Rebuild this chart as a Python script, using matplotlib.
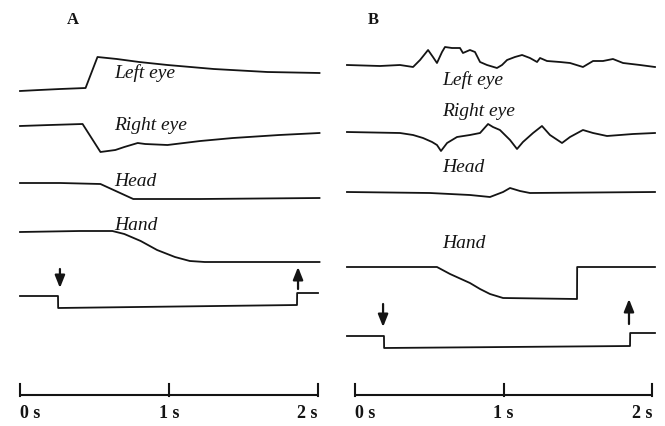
import matplotlib
matplotlib.use("Agg")
import matplotlib.pyplot as plt

# traces: time (s) and vertical level (px from top)
# panel A
a_left_t = [0, 0.13, 0.27, 0.44, 0.52, 0.65, 0.80, 0.99, 1.30, 1.66, 2.01]
a_left_y = [91, 90, 89, 88, 57, 59, 62, 65, 69, 72, 73]
a_right_t = [0, 0.20, 0.42, 0.54, 0.64, 0.70, 0.79, 0.84, 0.99, 1.21, 1.43, 1.74, 2.01]
a_right_y = [126, 125, 124, 152, 150, 147, 143, 144, 145, 141, 138, 135, 133]
a_head_t = [0, 0.27, 0.54, 0.76, 1.21, 2.01]
a_head_y = [183, 183, 184, 199, 199, 198]
a_hand_t = [0, 0.40, 0.62, 0.70, 0.81, 0.92, 1.04, 1.14, 1.24, 2.01]
a_hand_y = [232, 231, 231, 234, 241, 250, 257, 261, 262, 262]
a_stim_t = [0, 0.255, 0.256, 1.859, 1.860, 2.0]
a_stim_y = [296, 296, 308, 305, 293, 293]
a_arrows = [(0.268, 269, 288), (1.866, 289, 267)]

# panel B
b_left_t = [-0.054, 0.168, 0.303, 0.391, 0.438, 0.492, 0.525, 0.552, 0.586, 0.606,
            0.653, 0.707, 0.727, 0.774, 0.808, 0.842, 0.889, 0.956, 0.990, 1.024,
            1.077, 1.125, 1.178, 1.226, 1.246, 1.293, 1.380, 1.448, 1.535, 1.603,
            1.670, 1.737, 1.805, 1.919, 2.020]
b_left_y = [65, 66, 65, 67, 60, 50, 57, 63, 52, 47,
            48, 48, 53, 50, 52, 62, 65, 68, 65, 60,
            57, 55, 58, 62, 58, 61, 62, 63, 67, 61,
            61, 59, 63, 65, 67]
b_right_t = [-0.054, 0.303, 0.391, 0.458, 0.519, 0.552, 0.579, 0.620, 0.687, 0.774,
             0.842, 0.896, 0.929, 0.976, 1.044, 1.091, 1.131, 1.199, 1.259, 1.313,
             1.394, 1.448, 1.535, 1.603, 1.697, 1.785, 1.872, 2.020]
b_right_y = [132, 133, 135, 138, 142, 145, 151, 143, 137, 135,
             133, 124, 127, 130, 140, 149, 142, 133, 126, 135,
             143, 137, 130, 133, 136, 135, 134, 133]
b_head_t = [-0.054, 0.505, 0.774, 0.909, 0.997, 1.044, 1.111, 1.178, 2.020]
b_head_y = [192, 193, 195, 197, 192, 188, 191, 193, 192]
b_hand_t = [-0.054, 0.552, 0.640, 0.774, 0.842, 0.909, 0.997, 1.495, 1.496, 2.020]
b_hand_y = [267, 267, 274, 283, 289, 294, 298, 299, 267, 267]
b_stim_t = [-0.054, 0.195, 0.196, 1.852, 1.853, 2.020]
b_stim_y = [336, 336, 348, 346, 333, 333]
b_arrows = [(0.189, 304, 327), (1.845, 324, 299)]

labels = ["Left eye", "Right eye", "Head", "Hand"]
a_label_y = [73, 125, 182, 225]
b_label_y = [80, 111, 167, 243]
scale_ticks = [0, 1, 2]
scale_labels = ["0 s", "1 s", "2 s"]

W, H = 665, 426
INK = "#141414"
fig = plt.figure(figsize=(W / 100, H / 100), dpi=100)

def make_axes(zero_px, px_per_s, xlim):
    left = (zero_px + xlim[0] * px_per_s) / W
    width = (xlim[1] - xlim[0]) * px_per_s / W
    ax = fig.add_axes([left, 0, width, 1])
    ax.set_xlim(*xlim)
    ax.set_ylim(H, 0)
    ax.axis("off")
    return ax

def draw_panel(ax, letter, letter_t, traces, arrows, label_t, label_y):
    for t, y in traces:
        ax.plot(t, y, color=INK, lw=1.3, clip_on=False)
    for t, y0, y1 in arrows:
        ax.annotate("", xy=(t, y1), xytext=(t, y0),
                    arrowprops=dict(arrowstyle="-|>,head_length=0.75,head_width=0.3",
                                    color=INK, lw=1.6, shrinkA=0, shrinkB=0))
    for lab, y in zip(labels, label_y):
        ax.text(label_t, y, lab, fontsize=14, family="Liberation Serif",
                style="italic", ha="left", va="center", color=INK)
    ax.text(letter_t, 20, letter, fontsize=12, family="Liberation Serif",
            weight="bold", ha="center", va="center", color=INK)
    # time scale bar
    ax.plot([0, 2], [395, 395], color=INK, lw=1.5, clip_on=False,
            solid_capstyle="butt")
    for tk in scale_ticks:
        ax.plot([tk, tk], [395.5, 384], color=INK, lw=1.5, clip_on=False)
    for tk, lab, ha in zip(scale_ticks, scale_labels, ["left", "center", "right"]):
        ax.text(tk, 414, lab, fontsize=13, family="Liberation Serif",
                weight="bold", ha=ha, va="center", color=INK)

ax_a = make_axes(20, 149, (-0.1, 2.1))
draw_panel(ax_a, "A", 0.356,
           [(a_left_t, a_left_y), (a_right_t, a_right_y), (a_head_t, a_head_y),
            (a_hand_t, a_hand_y), (a_stim_t, a_stim_y)],
           a_arrows, 0.63, a_label_y)

ax_b = make_axes(355, 148.5, (-0.1, 2.08))
draw_panel(ax_b, "B", 0.121,
           [(b_left_t, b_left_y), (b_right_t, b_right_y), (b_head_t, b_head_y),
            (b_hand_t, b_hand_y), (b_stim_t, b_stim_y)],
           b_arrows, 0.586, b_label_y)

fig.savefig("out.png", dpi=100)
